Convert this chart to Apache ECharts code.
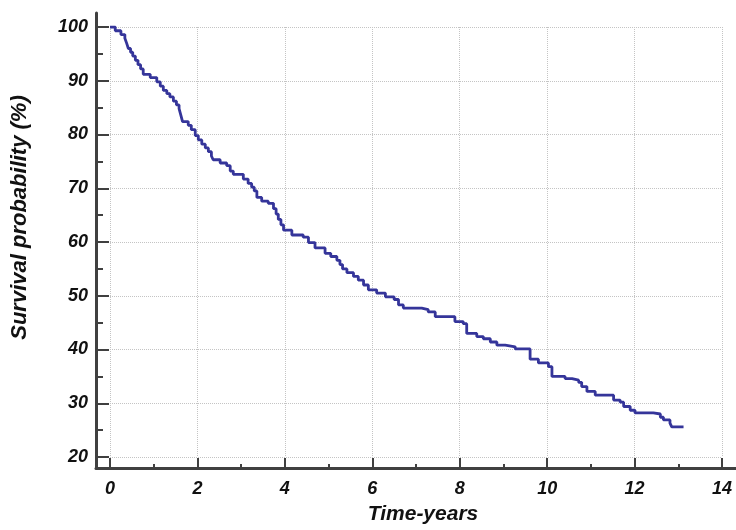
<!DOCTYPE html>
<html>
<head>
<meta charset="utf-8">
<script src="https://cdn.jsdelivr.net/npm/echarts@6/dist/echarts.min.js"></script>
<style>
  html, body { margin: 0; padding: 0; background: #ffffff; }
  #chart { width: 736px; height: 530px; }
</style>
</head>
<body>
<div id="chart"></div>
<script>
// Kaplan-Meier survival estimate: event times (years) and survival (%) after each step
var eventTimes = [
  0, 0.12, 0.25, 0.34, 0.38, 0.42, 0.47, 0.52, 0.58, 0.64, 0.70, 0.76, 0.92,
  1.07, 1.15, 1.22, 1.30, 1.37, 1.45, 1.52, 1.58, 1.62, 1.66, 1.79, 1.86, 1.95,
  2.02, 2.10, 2.18, 2.25, 2.32, 2.36, 2.52, 2.67, 2.75, 2.82,
  3.05, 3.16, 3.24, 3.30, 3.36, 3.47, 3.62, 3.74, 3.80, 3.85, 3.91, 3.97,
  4.16, 4.42, 4.54, 4.69, 4.92,
  5.05, 5.19, 5.26, 5.32, 5.42, 5.57, 5.68, 5.80, 5.91,
  6.10, 6.30, 6.50, 6.60, 6.71,
  7.13, 7.28, 7.44, 7.89,
  8.08, 8.16, 8.39, 8.54, 8.70, 8.85,
  9.04, 9.27, 9.61, 9.80,
  10.03, 10.11, 10.41, 10.57, 10.72, 10.79, 10.91,
  11.10, 11.52, 11.67, 11.75, 11.90,
  12.01, 12.43, 12.59, 12.66, 12.81, 12.85, 13.12
];
var survival = [
  100, 99.3, 98.6, 97.9, 97.0, 96.0, 95.3, 94.6, 93.8, 93.0, 92.2, 91.2, 90.6,
  89.8, 89.0, 88.2, 87.6, 87.0, 86.2, 85.5, 84.8, 83.6, 82.4, 81.7, 80.9, 79.8,
  79.0, 78.2, 77.5, 76.8, 76.0, 75.3, 74.7, 74.2, 73.2, 72.6,
  71.7, 70.9, 70.2, 69.5, 68.3, 67.6, 67.2, 66.2, 65.2, 64.2, 63.2, 62.2,
  61.3, 60.9, 59.9, 58.9, 57.9,
  57.3, 56.6, 55.8, 55.0, 54.3, 53.6, 52.9, 52.0, 51.1,
  50.5, 49.8, 49.3, 48.3, 47.7,
  47.4, 47.0, 46.1, 45.2,
  44.8, 43.0, 42.4, 42.0, 41.4, 40.8,
  40.5, 40.1, 38.2, 37.5,
  36.8, 35.0, 34.6, 34.3, 33.9, 33.1, 32.2,
  31.5, 30.6, 30.2, 29.4, 28.7,
  28.2, 28.0, 27.4, 26.9, 26.3, 25.6, 25.6
];
var xTicks = { min: 0, max: 14, step: 2 };
var yTicks = { min: 20, max: 100, step: 10 };

var axisColor = '#404040';
var labelFont = {
  color: '#111111',
  fontFamily: 'Liberation Sans, Arial, sans-serif',
  fontWeight: 'bold',
  fontStyle: 'italic'
};

var curve = eventTimes.map(function (t, i) { return [t, survival[i]]; });

var chart = echarts.init(document.getElementById('chart'), null, { renderer: 'canvas' });
chart.setOption({
  animation: false,
  backgroundColor: '#ffffff',
  grid: [
    // frame carrying the long axis lines and the axis titles
    { left: 96, top: 13, right: 0, bottom: 60 },
    // plotting area
    { left: 110, top: 27, right: 14, bottom: 73 }
  ],
  xAxis: [
    {
      gridIndex: 0, type: 'value', min: 0, max: 1,
      axisLine: { show: true, onZero: false, lineStyle: { color: axisColor, width: 3 } },
      axisTick: { show: false }, axisLabel: { show: false }, splitLine: { show: false },
      name: 'Time-years', nameLocation: 'middle', nameGap: 36,
      nameTextStyle: Object.assign({ fontSize: 21, padding: [0, 0, 0, 14] }, labelFont)
    },
    {
      gridIndex: 1, type: 'value', min: xTicks.min, max: xTicks.max, interval: xTicks.step,
      offset: 13,
      axisLine: { show: false, onZero: false },
      axisTick: { show: true, inside: true, length: 12, lineStyle: { color: axisColor, width: 2 } },
      minorTick: { show: true, splitNumber: 2, length: 6, lineStyle: { color: axisColor, width: 2 } },
      axisLabel: Object.assign({ fontSize: 18, margin: 10 }, labelFont),
      splitLine: { show: true, lineStyle: { color: '#c4c4c4', type: 'dotted', width: 1 } }
    }
  ],
  yAxis: [
    {
      gridIndex: 0, type: 'value', min: 0, max: 1,
      axisLine: { show: true, onZero: false, lineStyle: { color: axisColor, width: 3 } },
      axisTick: { show: false }, axisLabel: { show: false }, splitLine: { show: false },
      name: 'Survival probability (%)', nameLocation: 'middle', nameGap: 65,
      nameTextStyle: Object.assign({ fontSize: 22, padding: [0, 0, 0, 46] }, labelFont)
    },
    {
      gridIndex: 1, type: 'value', min: yTicks.min, max: yTicks.max, interval: yTicks.step,
      offset: 14,
      axisLine: { show: false, onZero: false },
      axisTick: { show: true, inside: true, length: 13, lineStyle: { color: axisColor, width: 2 } },
      minorTick: { show: true, splitNumber: 2, length: 7, lineStyle: { color: axisColor, width: 2 } },
      axisLabel: Object.assign({ fontSize: 18, margin: 8 }, labelFont),
      splitLine: { show: true, lineStyle: { color: '#c4c4c4', type: 'dotted', width: 1 } }
    }
  ],
  series: [
    {
      type: 'line',
      xAxisIndex: 1, yAxisIndex: 1,
      step: 'end',
      data: curve,
      showSymbol: false,
      lineStyle: { color: '#35359a', width: 2.8 }
    }
  ]
});
</script>
</body>
</html>
